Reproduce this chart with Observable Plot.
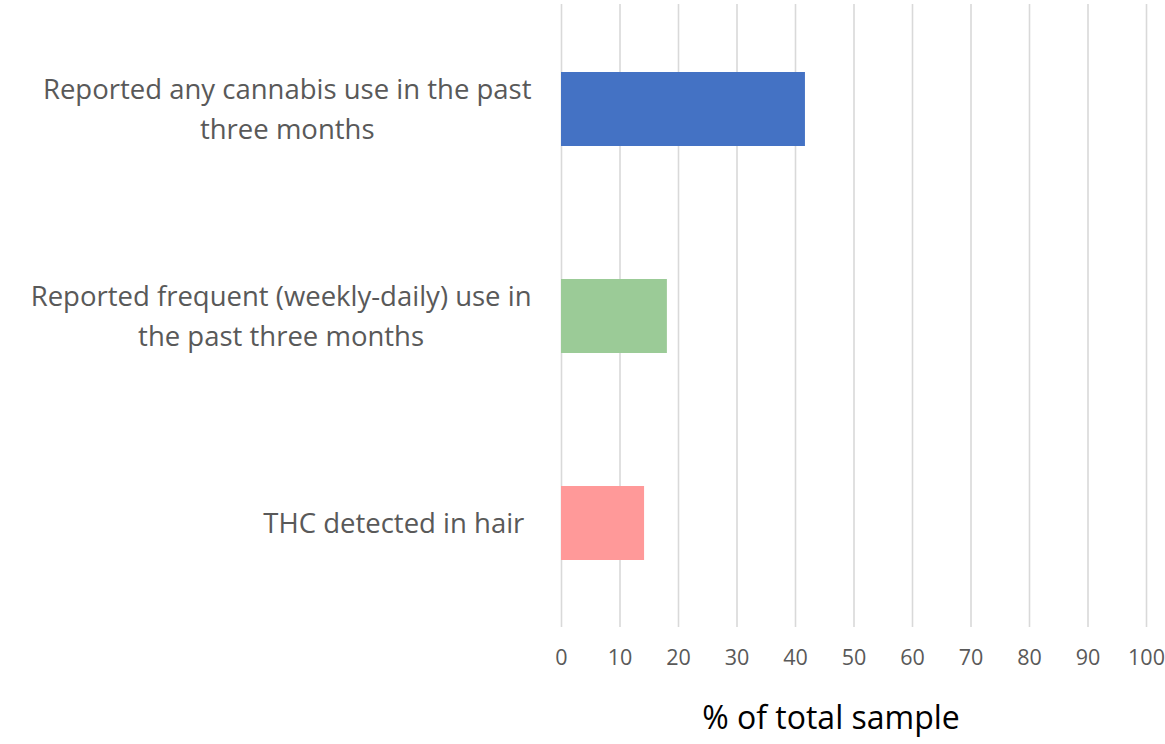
<!DOCTYPE html>
<html>
<head>
<meta charset="utf-8">
<script src="https://cdn.jsdelivr.net/npm/d3@7"></script>
<script src="https://cdn.jsdelivr.net/npm/@observablehq/plot@0.6"></script>
<style>
  html, body { margin: 0; padding: 0; background: #fff; }
  #chart svg { display: block; }
</style>
</head>
<body>
<div id="chart"></div>
<script>
// Share of the total sample for each cannabis-use indicator
const categories = [
  "Reported any cannabis use in the past\nthree months",
  "Reported frequent (weekly-daily) use in\nthe past three months",
  "THC detected in hair "
];
const percents = [41.7, 18.1, 14.2];
const barColors = ["#4472c4", "#9bcb97", "#ff9999"];
const xTicks = [0, 10, 20, 30, 40, 50, 60, 70, 80, 90, 100];
const xLabel = "% of total sample";

const data = categories.map((c, i) => ({category: c, value: percents[i], color: barColors[i]}));

const FONT = "'Open Sans', sans-serif";
const labelSize = 27.5;
const labelGap = 30;

// Width of a wrapped label block, so each block can be right-aligned
// while its lines stay centred on one another.
const ctx = document.createElement("canvas").getContext("2d");
ctx.font = `${labelSize}px 'Open Sans'`;
const blockWidth = (s) => Math.max(...s.split("\n").map((l) => ctx.measureText(l).width));

const labelMarks = data.map((d) =>
  Plot.text([d], {
    y: "category",
    text: "category",
    frameAnchor: "left",
    textAnchor: "middle",
    lineAnchor: "middle",
    lineHeight: 1.45,
    dx: -labelGap - blockWidth(d.category) / 2,
    dy: -3,
    fill: "#595959",
    fontSize: labelSize,
    fontFamily: FONT
  })
);

const chart = Plot.plot({
  width: 1165,
  height: 744,
  marginLeft: 561,
  marginRight: 19,
  marginTop: 4,
  marginBottom: 117,
  style: {fontFamily: FONT, background: "#fff", overflow: "visible"},
  x: {domain: [0, 100], ticks: xTicks},
  y: {domain: categories, paddingInner: 0.644, paddingOuter: 0.322, axis: null},
  marks: [
    Plot.gridX(xTicks, {stroke: "#d9d9d9", strokeOpacity: 1, strokeWidth: 1.6}),
    Plot.barX(data, {x: "value", y: "category", fill: "color"}),
    Plot.axisX({
      ticks: xTicks,
      tickSize: 0,
      tickPadding: 22,
      fontSize: 21.5,
      color: "#595959",
      label: null
    }),
    Plot.text([xLabel], {
      frameAnchor: "bottom",
      dx: -23,
      dy: 101,
      text: (d) => d,
      fontSize: 32,
      fill: "#000",
      fontFamily: FONT
    }),
    ...labelMarks
  ]
});

document.getElementById("chart").append(chart);
</script>
</body>
</html>
